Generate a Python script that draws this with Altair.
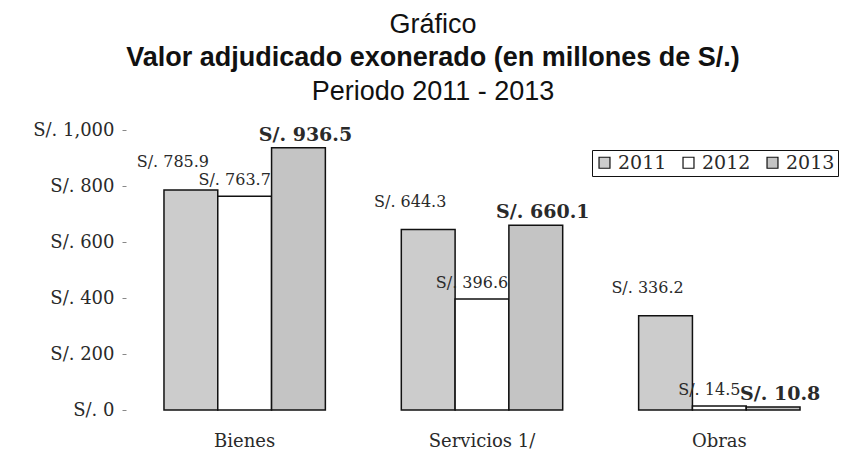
import altair as alt
import pandas as pd

categories = ["Bienes", "Servicios 1/", "Obras"]
years = ["2011", "2012", "2013"]
v2011 = [785.9, 644.3, 336.2]
v2012 = [763.7, 396.6, 14.5]
v2013 = [936.5, 660.1, 10.8]
y_ticks = [0, 200, 400, 600, 800, 1000]
colors = ["#cccccc", "#ffffff", "#c4c4c4"]
title_lines = ["Gráfico", "Valor adjudicado exonerado (en millones de S/.)", "Periodo 2011 - 2013"]

rows = []
for i, c in enumerate(categories):
    for yr, vals in zip(years, [v2011, v2012, v2013]):
        rows.append({"cat": c, "year": yr, "value": vals[i],
                     "label": "S/. " + format(vals[i], ".1f")})
df = pd.DataFrame(rows)

SERIF = "DejaVu Serif"
SANS = "Liberation Sans"
INK = "#2a2a2a"

x = alt.X("cat:N", sort=categories,
          scale=alt.Scale(paddingInner=0.32, paddingOuter=0.16),
          axis=alt.Axis(title=None, labelAngle=0, domain=False, ticks=False,
                        labelFont=SERIF, labelFontSize=18, labelPadding=22,
                        labelColor=INK))
xo = alt.XOffset("year:N", sort=years, scale=alt.Scale(paddingInner=0, paddingOuter=0))
y = alt.Y("value:Q", scale=alt.Scale(domain=[0, 1000]),
          axis=alt.Axis(values=y_ticks, title=None, grid=False, domain=False,
                        labelExpr="'S/. ' + format(datum.value, ',')",
                        tickSize=4, tickColor="#888888", labelPadding=8,
                        labelFont=SERIF, labelFontSize=18, labelColor=INK))

base = alt.Chart(df)

bars = base.mark_bar(stroke="#111111", strokeWidth=1.5).encode(
    x=x, xOffset=xo, y=y,
    color=alt.Color("year:N", sort=years,
                    scale=alt.Scale(domain=years, range=colors),
                    legend=alt.Legend(title=None, orient="none", legendX=466, legendY=20,
                                      direction="horizontal", strokeColor="#111111",
                                      padding=3, symbolType="square", symbolSize=120,
                                      symbolStrokeColor="#111111", symbolStrokeWidth=1.2,
                                      labelFont=SERIF, labelFontSize=19, labelColor=INK,
                                      columnPadding=12, labelOffset=4)),
)

def labels(year, size, weight, dx, dy):
    return base.transform_filter(alt.datum.year == year).mark_text(
        font=SERIF, fontSize=size, fontWeight=weight, dx=dx, dy=dy,
        baseline="middle", align="center", color=INK
    ).encode(x=x, xOffset=xo, y=y, text="label:N")

l1 = labels("2011", 16, "normal", -18, -28)
l2 = labels("2012", 16, "normal", -10, -16)
l3 = labels("2013", 19, "bold", 7, -13)

def title_text(txt, weight, ypos):
    return alt.Chart(pd.DataFrame({"t": [txt]})).mark_text(
        font=SANS, fontSize=27, fontWeight=weight, baseline="alphabetic",
        align="center", color="#111111"
    ).encode(x=alt.value(307), y=alt.value(ypos), text="t:N")

t1 = title_text(title_lines[0], "normal", -97)
t2 = title_text(title_lines[1], "bold", -64)
t3 = title_text(title_lines[2], "normal", -30)

chart = alt.layer(bars, l1, l2, l3, t1, t2, t3).properties(
    width=712, height=280,
    autosize=alt.AutoSizeParams(type="none"),
    padding={"left": 118, "top": 122, "right": 2, "bottom": 42},
).configure_view(stroke=None)

chart.save("out.html", embed_options={"renderer": "svg", "actions": False})
